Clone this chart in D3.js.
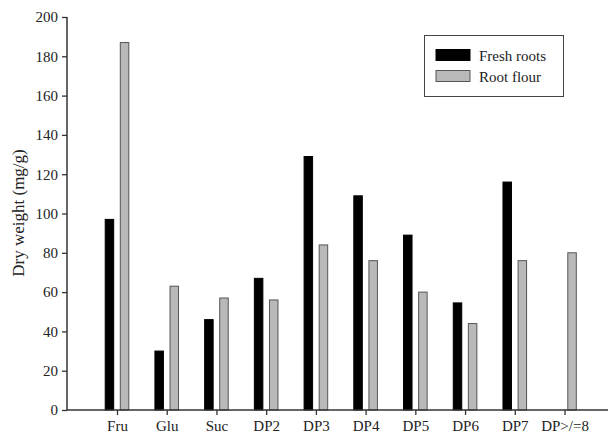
<!DOCTYPE html>
<html><head><meta charset="utf-8">
<script src="https://cdn.jsdelivr.net/npm/d3@7/dist/d3.min.js"></script>
<style>body{margin:0;background:#fff}svg{display:block}text{font-family:"Liberation Serif","Times New Roman",serif;fill:#222}</style>
</head><body><svg id="c" width="608" height="433"></svg>
<script>
const categories = ["Fru","Glu","Suc","DP2","DP3","DP4","DP5","DP6","DP7","DP>/=8"];
const freshRoots = [97,30,46,67,129,109,89,54.5,116,null];
const rootFlour = [187,63,57,56,84,76,60,44,76,80];
const seriesNames = ["Fresh roots","Root flour"];
const yTicks = [0,20,40,60,80,100,120,140,160,180,200];

const svg = d3.select("#c");
const axisX = 67, axisY = 410, topY = 17;
const y = d3.scaleLinear().domain([0,200]).range([axisY, topY]);
const x = d3.scalePoint().domain(categories).range([117, 564.5]);
const bw = 9.5, off = 2.8;

const series = [
  {name: seriesNames[0], values: freshRoots, fill:"#000", stroke:"#000", dx: -off - bw},
  {name: seriesNames[1], values: rootFlour, fill:"#b9b9b9", stroke:"#555", dx: off}
];
series.forEach(s => {
  svg.append("g").selectAll("rect").data(categories.map((c,i)=>({c, v:s.values[i]})).filter(d=>d.v!=null))
    .join("rect")
    .attr("x", d => x(d.c) + s.dx + 0.5)
    .attr("y", d => y(d.v))
    .attr("width", bw - 1)
    .attr("height", d => axisY - y(d.v))
    .attr("fill", s.fill).attr("stroke", s.stroke).attr("stroke-width", 1);
});

// y axis
const ya = svg.append("g").attr("transform", `translate(${axisX},0)`)
  .call(d3.axisLeft(y).tickValues(yTicks).tickSize(5).tickPadding(4).tickFormat(d3.format("d")));
ya.select(".domain").attr("stroke","#333").attr("stroke-width",1.5).attr("d", `M0,${topY}V${axisY}`);
ya.selectAll(".tick line").attr("stroke","#333").attr("stroke-width",1.3);
ya.selectAll(".tick text").attr("font-size",15).attr("font-family","'Liberation Serif',serif").attr("fill","#222");

// x axis
const xa = svg.append("g").attr("transform", `translate(0,${axisY})`)
  .call(d3.axisBottom(x).tickSize(5).tickPadding(5));
xa.select(".domain").attr("stroke","#333").attr("stroke-width",1.5).attr("d", `M${axisX},0H608`);
xa.selectAll(".tick line").attr("stroke","#333").attr("stroke-width",1.3);
xa.selectAll(".tick text").attr("font-size",15).attr("font-family","'Liberation Serif',serif").attr("fill","#222");

// y label
svg.append("text").attr("transform","translate(24,213) rotate(-90)")
  .attr("text-anchor","middle").attr("font-size",17).text("Dry weight (mg/g)");

// legend
const lg = svg.append("g");
lg.append("rect").attr("x",424.5).attr("y",35.5).attr("width",139).attr("height",61)
  .attr("fill","#fff").attr("stroke","#444").attr("stroke-width",1);
series.forEach((s,i) => {
  lg.append("rect").attr("x",436).attr("y",49.5 + i*21).attr("width",34).attr("height",11)
    .attr("fill",s.fill).attr("stroke",s.stroke);
  lg.append("text").attr("x",479).attr("y",60.5 + i*21).attr("font-size",15).text(s.name);
});
</script></body></html>
